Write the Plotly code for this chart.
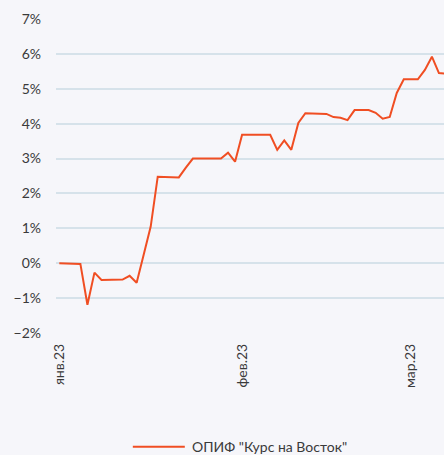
import plotly.graph_objects as go

# --- data -------------------------------------------------------------
series_name = 'ОПИФ "Курс на Восток"'

jan_days = [1, 2, 3, 4, 5, 6, 8, 9, 10, 11, 12, 13, 15, 16, 17, 18, 19, 20, 22, 23, 24, 25, 26, 27, 30, 31]
feb_days = [1, 2, 3, 6, 7, 8, 9, 10, 13, 14, 15, 16, 17, 20, 21, 22, 23, 24, 25, 26, 27, 28, 28, 28]
mar_days = [1, 2, 3, 4, 5, 6]

dates = ([f"2023-01-{d:02d}" for d in jan_days]
         + [f"2023-02-{d:02d}#{i}" for i, d in enumerate(feb_days)]
         + [f"2023-03-{d:02d}" for d in mar_days])

values = [0.00, 0.00, 0.00, -0.02, -1.19, -0.27, -0.48, -0.47, -0.47, -0.47,
          -0.36, -0.56, 0.24, 1.05, 2.48, 2.48, 2.48, 2.46, 2.74, 3.00,
          3.00, 3.00, 3.00, 3.00, 3.17, 2.91, 3.68, 3.68, 3.68, 3.68,
          3.68, 3.25, 3.52, 3.25, 4.02, 4.30, 4.30, 4.30, 4.28, 4.19,
          4.17, 4.10, 4.39, 4.39, 4.39, 4.31, 4.14, 4.19, 4.88, 5.27,
          5.27, 5.27, 5.54, 5.92, 5.45, 5.43]

tick_pos = [0, 26, 50]
tick_text = ["янв.23", "фев.23", "мар.23"]
y_ticks = [-2, -1, 0, 1, 2, 3, 4, 5, 6, 7]
y_tick_text = [f"{v}%".replace("-", "\u2212") for v in y_ticks]

line_color = "#f04e23"
text_color = "#3a3a3a"
font_family = "Lato, 'Noto Sans', sans-serif"

# --- figure -----------------------------------------------------------
fig = go.Figure()
fig.add_trace(go.Scatter(
    x=dates, y=values, mode="lines", name=series_name,
    line=dict(color=line_color, width=2), showlegend=False,
))

fig.update_layout(
    width=444, height=455,
    margin=dict(l=56, r=0, t=19, b=122),
    paper_bgcolor="#f6f6fa", plot_bgcolor="#f6f6fa",
    font=dict(family=font_family, size=14, color=text_color),
    showlegend=False,
)
# legend (drawn manually to get the long line key)
fig.add_shape(type="line", xref="paper", yref="paper",
              x0=0.198, x1=0.332, y0=-0.362, y1=-0.362,
              line=dict(color=line_color, width=2))
fig.add_annotation(text=series_name, xref="paper", yref="paper",
                   x=0.346, y=-0.362, xanchor="left", yanchor="middle",
                   showarrow=False, font=dict(size=14, color=text_color))

fig.update_xaxes(
    type="category", range=[-0.47, 54.72],
    tickmode="array", tickvals=[dates[i] for i in tick_pos], ticktext=tick_text,
    tickangle=-90, showgrid=False, zeroline=False, showline=False, ticks="",
    ticklabelstandoff=7,
)
fig.update_yaxes(
    range=[-2, 7], tickmode="array", tickvals=y_ticks, ticktext=y_tick_text,
    showgrid=True, gridcolor="#d6e2ea", gridwidth=1.5, zeroline=False,
    showline=False, ticks="", ticklabelstandoff=14,
)

fig.write_html("out.html", config={"displayModeBar": False},
               post_script="document.body.style.margin='0';document.body.style.overflow='hidden';")
